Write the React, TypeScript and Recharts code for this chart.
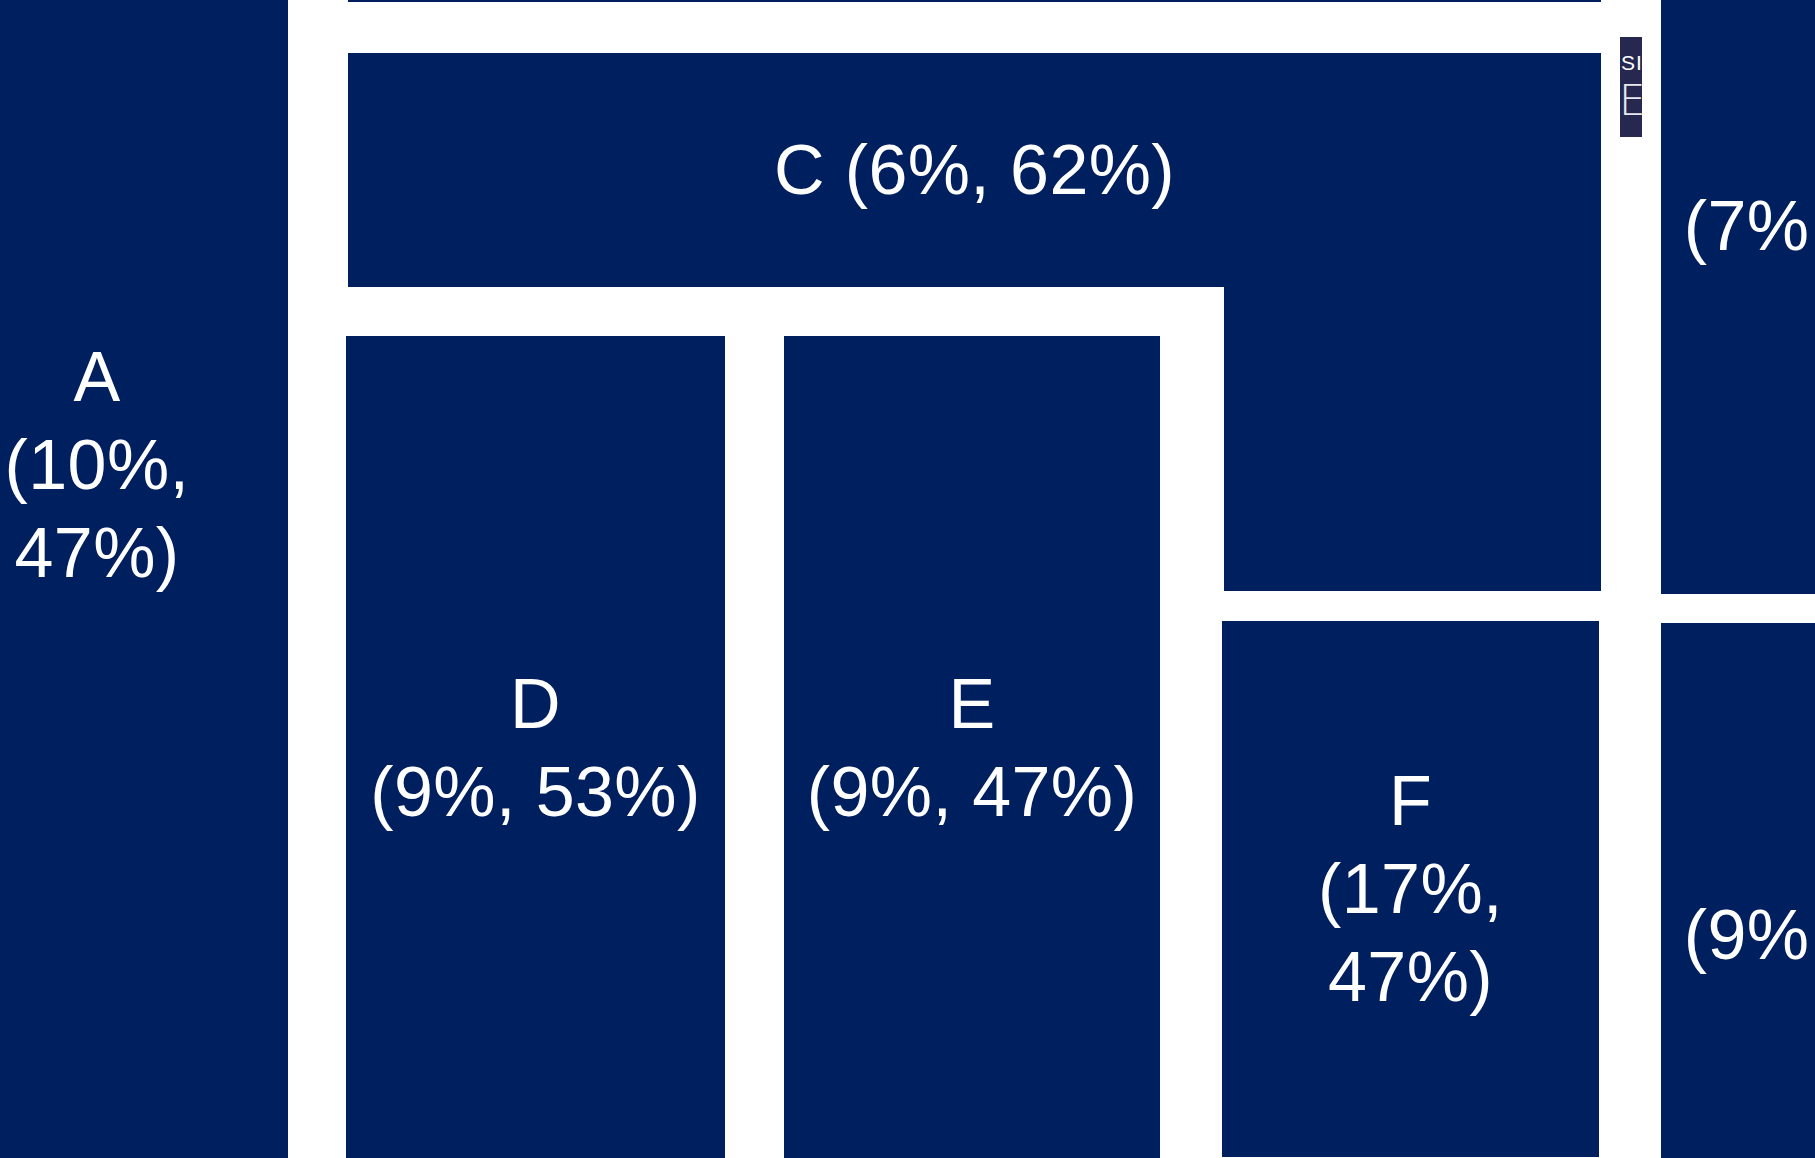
import React from 'react'
import { ComposedChart, XAxis, YAxis, ReferenceArea } from 'recharts'

// view window in grid units (1 unit = 1px of the 1815x1158 frame)
const VIEW_W = 1815
const VIEW_H = 1158

const NAVY = '#001f5e'
const FONT = "'Liberation Sans', Arial, Helvetica, sans-serif"
const LINE = 88

// tiles of the mosaic, several run past the visible window
const names = ['A', 'B', 'C', 'D', 'E', 'F', 'G', 'H']
const shareX = ['10%', '8%', '6%', '9%', '9%', '17%', '7%', '9%']
const shareY = ['47%', '58%', '62%', '53%', '47%', '47%', '55%', '51%']
const left = [-94, 348, 348, 346, 784, 1222, 1661, 1661]
const right = [288, 1601, 1601, 725, 1160, 1599, 2037, 2037]
const top = [-228, -230, 53, 336, 336, 621, -230, 623]
const bottom = [1158, 2, 287, 1160, 1160, 1157, 594, 1159]
// how the label breaks: inline = one line, split = name / values, stack = three lines
const wrap = ['stack', 'inline', 'inline', 'split', 'split', 'stack', 'split', 'split']

// lower right arm of tile C
const cArm = { left: 1224, right: 1601, top: 53, bottom: 591 }

// tiny tile next to C whose label is clipped
const sliver = { left: 1620, right: 1642, top: 37, bottom: 137 }
const sliverText = ['SITE', 'EO']

function labelLines(i: number) {
  const vals = `(${shareX[i]}, ${shareY[i]})`
  if (wrap[i] === 'inline') return [`${names[i]} ${vals}`]
  if (wrap[i] === 'split') return [names[i], vals]
  return [names[i], `(${shareX[i]},`, `${shareY[i]})`]
}

const tileLabel = (lines: string[]) => (props: any) => {
  const vb = props.viewBox
  if (!vb) return null
  const cx = vb.x + vb.width / 2
  const cy = vb.y + vb.height / 2
  return (
    <g>
      {lines.map((t, i) => (
        <text
          key={i}
          x={cx}
          y={cy + (i - (lines.length - 1) / 2) * LINE}
          textAnchor="middle"
          dominantBaseline="central"
          fill="#ffffff"
          fontSize={70}
          letterSpacing={0.4}
          fontFamily={FONT}
        >
          {t}
        </text>
      ))}
    </g>
  )
}

const sliverLabel = (props: any) => {
  const vb = props.viewBox
  if (!vb) return null
  return (
    <g>
      <defs>
        <clipPath id="sliver-clip">
          <rect x={vb.x} y={vb.y} width={vb.width} height={vb.height} />
        </clipPath>
      </defs>
      <g clipPath="url(#sliver-clip)">
        <text x={vb.x + 1} y={vb.y + 33} fill="#ffffff" fontSize={21} letterSpacing={1} fontFamily={FONT}>
          {sliverText[0]}
        </text>
        <text x={vb.x - 1} y={vb.y + 78} fill="#e8e8f0" fontSize={42} fontFamily="'DejaVu Sans', sans-serif" fontWeight={200}>
          {sliverText[1]}
        </text>
      </g>
    </g>
  )
}

export default function App() {
  return (
    <div
      style={{
        position: 'fixed',
        left: 0,
        top: 0,
        width: VIEW_W,
        height: VIEW_H,
        overflow: 'hidden',
        background: '#ffffff',
      }}
    >
      <ComposedChart width={VIEW_W} height={VIEW_H} margin={{ top: 0, right: 0, bottom: 0, left: 0 }}>
        <XAxis type="number" dataKey="x" domain={[0, VIEW_W]} hide allowDataOverflow />
        <YAxis type="number" dataKey="y" domain={[0, VIEW_H]} reversed hide allowDataOverflow />

        {/* arm first so C's top bar sits over it */}
        <ReferenceArea
          x1={cArm.left}
          x2={cArm.right}
          y1={cArm.top}
          y2={cArm.bottom}
          fill={NAVY}
          fillOpacity={1}
          stroke="none"
          ifOverflow="visible"
        />

        {names.map((n, i) => (
          <ReferenceArea
            key={n}
            x1={left[i]}
            x2={right[i]}
            y1={top[i]}
            y2={bottom[i]}
            fill={NAVY}
            fillOpacity={1}
            stroke="none"
            ifOverflow="visible"
            label={tileLabel(labelLines(i))}
          />
        ))}

        <ReferenceArea
          x1={sliver.left}
          x2={sliver.right}
          y1={sliver.top}
          y2={sliver.bottom}
          fill="#27284f"
          fillOpacity={1}
          stroke="none"
          ifOverflow="visible"
          label={sliverLabel}
        />
      </ComposedChart>
    </div>
  )
}
